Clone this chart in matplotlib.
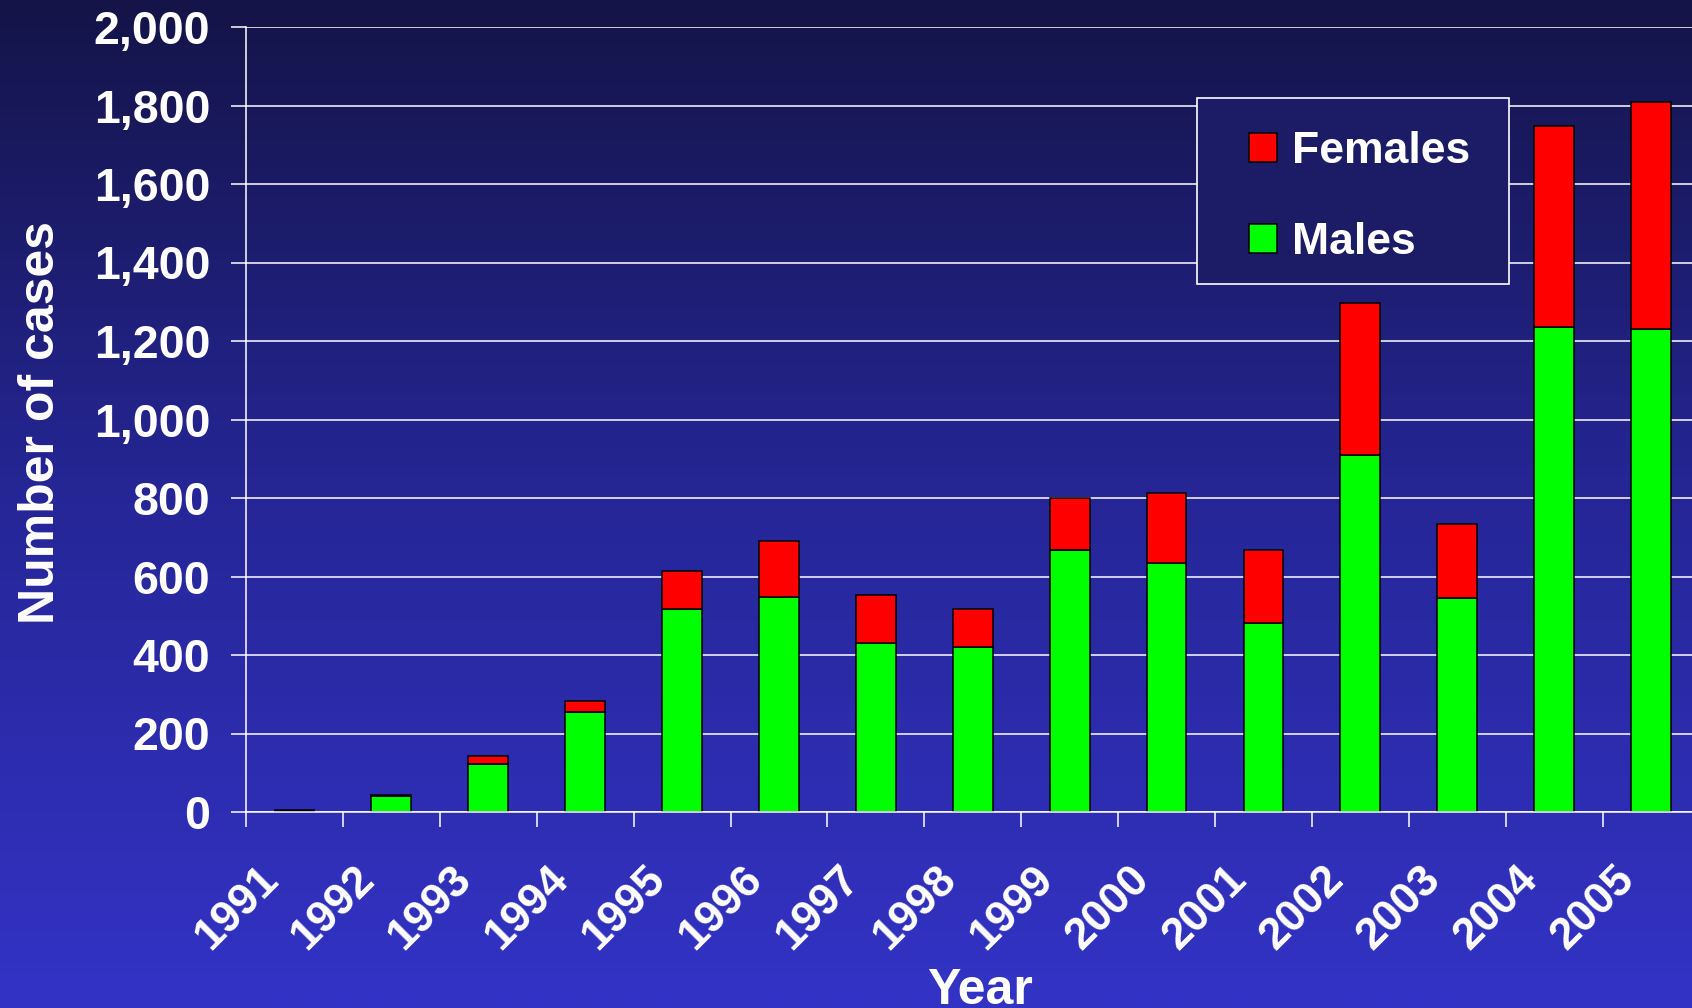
import numpy as np
import matplotlib
matplotlib.use("Agg")
import matplotlib.pyplot as plt
from matplotlib.patches import Rectangle, Patch
from matplotlib.ticker import FuncFormatter, FixedLocator
from matplotlib.transforms import ScaledTranslation

# ---- data ----
years = ["1991", "1992", "1993", "1994", "1995", "1996", "1997", "1998",
         "1999", "2000", "2001", "2002", "2003", "2004", "2005"]
males = [3, 42, 122, 255, 516, 548, 431, 420, 667, 634, 482, 910, 544, 1236, 1231]
females = [2, 1, 21, 29, 99, 143, 122, 96, 134, 180, 186, 388, 189, 512, 578]
yticks = [0, 200, 400, 600, 800, 1000, 1200, 1400, 1600, 1800, 2000]

plt.rcParams['font.family'] = ['Liberation Sans', 'DejaVu Sans']
plt.rcParams['font.weight'] = 'bold'

W, H = 1692, 1008
fig = plt.figure(figsize=(W / 100, H / 100), dpi=100)

# ---- gradient background ----
stops_t = [0.0, 0.5, 1.0]
stops_c = np.array([[20, 20, 72], [38, 38, 152], [51, 51, 198]]) / 255.0


def grad_color(t):
    return [np.interp(t, stops_t, stops_c[:, k]) for k in range(3)]


tt = np.linspace(0, 1, 512)
grad = np.array([grad_color(t) for t in tt])[:, None, :]
bg = fig.add_axes([0, 0, 1, 1], zorder=-10)
bg.imshow(grad, extent=[0, 1, 0, 1], aspect='auto', origin='upper', interpolation='bilinear')
bg.set_axis_off()

# ---- main axes ----
pitch = 96.9
ax_left, ax_top, ax_bottom = 246, 27, 812
ax = fig.add_axes([ax_left / W, 1 - ax_bottom / H, 15 * pitch / W, (ax_bottom - ax_top) / H])
ax.patch.set_alpha(0)

x = np.arange(len(years))
ax.bar(x, males, width=0.41, color='#00ff00', edgecolor='black', linewidth=1.1,
       label='Males', zorder=3)
ax.bar(x, females, width=0.41, bottom=males, color='#ff0000', edgecolor='black',
       linewidth=1.1, label='Females', zorder=3)

ax.set_xlim(-0.5, 14.5)
ax.set_ylim(0, 2000)

for s in ['top', 'right']:
    ax.spines[s].set_visible(False)
for s in ['left', 'bottom']:
    ax.spines[s].set_color('white')
    ax.spines[s].set_linewidth(1.1)
    ax.spines[s].set_zorder(4)

ax.set_yticks(yticks)
ax.yaxis.set_major_formatter(FuncFormatter(lambda v, p: f"{v:,.0f}"))
ax.tick_params(axis='y', colors='white', length=10.8, width=1.1, pad=15,
               labelsize=33.5, direction='out')
for lab in ax.get_yticklabels():
    lab.set_fontweight('bold')
ax.yaxis.grid(True, color='white', linewidth=1.1, zorder=1)
ax.set_axisbelow(True)

ax.set_xticks(x)
ax.set_xticklabels(years, rotation=45, ha='right', va='center',
                   rotation_mode='anchor', fontsize=32, fontweight='bold', color='white')
ax.xaxis.set_minor_locator(FixedLocator(np.arange(-0.5, 15.0, 1.0)))
ax.tick_params(axis='x', which='major', length=0, pad=44)
ax.tick_params(axis='x', which='minor', length=10.8, width=1.1, color='white')
offs = ScaledTranslation(-23 / 100, 0, fig.dpi_scale_trans)
for lab in ax.get_xticklabels():
    lab.set_transform(lab.get_transform() + offs)

# ---- axis titles ----
fig.text(41.5 / W, 1 - 423 / H, "Number of cases", rotation=90, ha='center', va='center',
         fontsize=36, fontweight='bold', color='white')
fig.text(980.5 / W, 1 - 1004 / H, "Year", ha='center', va='baseline',
         fontsize=36, fontweight='bold', color='white')

# ---- legend ----
box_x0, box_y0, box_x1, box_y1 = 1197, 98, 1509, 284
fig.patches.append(Rectangle((box_x0 / W, 1 - box_y1 / H), (box_x1 - box_x0) / W,
                             (box_y1 - box_y0) / H, transform=fig.transFigure,
                             facecolor=grad_color(0.19), edgecolor='white',
                             linewidth=1.2, zorder=5))
handles = [Patch(facecolor='#ff0000', edgecolor='black', linewidth=1.1),
           Patch(facecolor='#00ff00', edgecolor='black', linewidth=1.1)]
leg = fig.legend(handles, ['Females', 'Males'], loc='upper left',
                 bbox_to_anchor=(1249 / W, 1 - 131 / H), frameon=False,
                 fontsize=32, borderpad=0, borderaxespad=0,
                 handlelength=0.63, handleheight=0.63, handletextpad=0.34,
                 labelspacing=1.12)
leg.set_zorder(6)
for t in leg.get_texts():
    t.set_color('white')
    t.set_fontweight('bold')

fig.savefig("out.png", dpi=100)
